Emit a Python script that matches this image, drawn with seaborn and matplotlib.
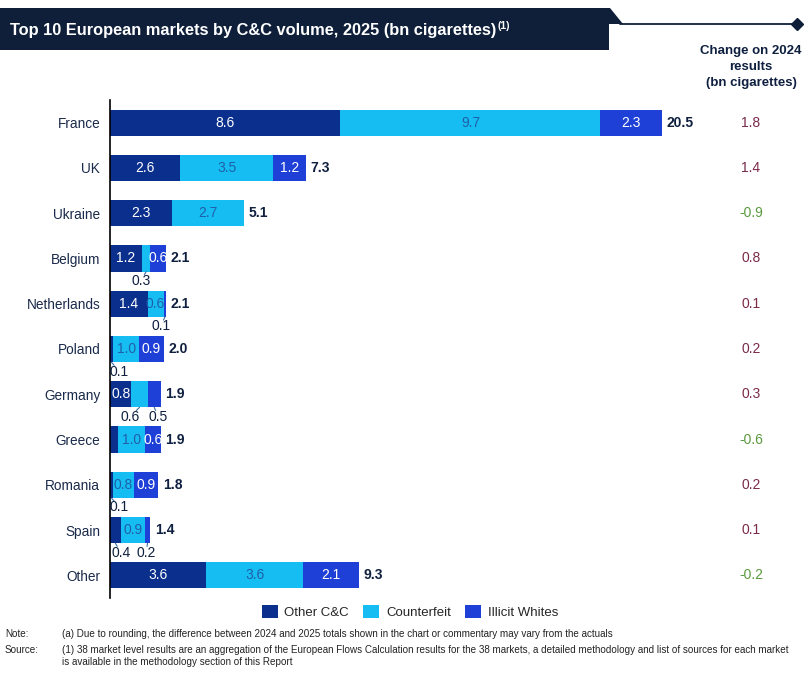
import numpy as np
import pandas as pd
import matplotlib
matplotlib.use("Agg")
import matplotlib.pyplot as plt
from matplotlib.patches import Polygon, Patch
from matplotlib.lines import Line2D
import matplotlib.transforms as mtransforms
import seaborn as sns

# ---------------- data ----------------
countries = ["France", "UK", "Ukraine", "Belgium", "Netherlands", "Poland",
             "Germany", "Greece", "Romania", "Spain", "Other"]
other_cc = [8.6, 2.6, 2.3, 1.2, 1.4, 0.1, 0.8, 0.3, 0.1, 0.4, 3.6]
counterfeit = [9.7, 3.5, 2.7, 0.3, 0.6, 1.0, 0.6, 1.0, 0.8, 0.9, 3.6]
illicit_whites = [2.3, 1.2, 0.0, 0.6, 0.1, 0.9, 0.5, 0.6, 0.9, 0.2, 2.1]
totals = [20.5, 7.3, 5.1, 2.1, 2.1, 2.0, 1.9, 1.9, 1.8, 1.4, 9.3]
change_2024 = [1.8, 1.4, -0.9, 0.8, 0.1, 0.2, 0.3, -0.6, 0.2, 0.1, -0.2]
series_names = ["Other C&C", "Counterfeit", "Illicit Whites"]

# which segment values are printed inside the bars
inside_show = {
    "Other C&C": [True, True, True, True, True, False, True, False, False, False, True],
    "Counterfeit": [True, True, True, False, True, True, False, True, True, True, True],
    "Illicit Whites": [True, True, False, True, False, True, False, True, True, False, True],
}
# labels placed below the bar: (country, series, x-offset in data units)
below_labels = [("Belgium", "Counterfeit", -0.2),
                ("Netherlands", "Illicit Whites", -0.15),
                ("Poland", "Other C&C", 0.3),
                ("Germany", "Counterfeit", -0.35),
                ("Germany", "Illicit Whites", 0.15),
                ("Romania", "Other C&C", 0.3),
                ("Spain", "Other C&C", 0.2),
                ("Spain", "Illicit Whites", -0.05)]

# ---------------- style ----------------
C_OTHER = "#0a2f8c"
C_COUNT = "#16bdf2"
C_ILLIC = "#1f40d6"
NAVY = "#0e1f3f"
TXT_COUNT = "#1f5fa8"
POS_C = "#7a2a4a"
NEG_C = "#5a9a3c"

sns.set_theme(style="white")
plt.rcParams["font.family"] = ["Liberation Sans", "DejaVu Sans"]

W, H = 808, 673
fig = plt.figure(figsize=(W / 100, H / 100), dpi=100)
fig.patch.set_facecolor("white")

def fx(px):
    return px / W

def fy(py):
    return 1 - py / H

ax = fig.add_axes([fx(110), fy(598), fx(580), fy(100) - fy(598)])

df = pd.DataFrame({"country": countries, "other": other_cc,
                   "counterfeit": counterfeit, "illicit": illicit_whites})
df["c1"] = df["other"]
df["c2"] = df["other"] + df["counterfeit"]
df["c3"] = df["c2"] + df["illicit"]

bw = 0.58
sns.barplot(data=df, y="country", x="c3", color=C_ILLIC, orient="h",
            width=bw, ax=ax, saturation=1, linewidth=0)
sns.barplot(data=df, y="country", x="c2", color=C_COUNT, orient="h",
            width=bw, ax=ax, saturation=1, linewidth=0)
sns.barplot(data=df, y="country", x="c1", color=C_OTHER, orient="h",
            width=bw, ax=ax, saturation=1, linewidth=0)

ax.set_xlim(0, 580 / 26.8)
ax.set_ylim(10.5, -0.5)
ax.set_xlabel("")
ax.set_ylabel("")
ax.set_xticks([])
for s in ["top", "right", "bottom"]:
    ax.spines[s].set_visible(False)
ax.spines["left"].set_color("black")
ax.spines["left"].set_linewidth(1.2)
ax.tick_params(axis="y", length=0, pad=7, labelsize=9.8, labelcolor="#1a2a4a")

series_vals = {"Other C&C": other_cc, "Counterfeit": counterfeit, "Illicit Whites": illicit_whites}
starts = {"Other C&C": [0] * len(countries),
          "Counterfeit": list(df["c1"]),
          "Illicit Whites": list(df["c2"])}
txtcol = {"Other C&C": "white", "Counterfeit": TXT_COUNT, "Illicit Whites": "white"}

for name in series_names:
    for i, c in enumerate(countries):
        v = series_vals[name][i]
        if inside_show[name][i] and v > 0:
            xc = starts[name][i] + v / 2
            ax.text(xc, i, f"{v:.1f}", ha="center", va="center",
                    color=txtcol[name], fontsize=10)

for i, t in enumerate(totals):
    ax.text(df["c3"][i] + 0.17, i, f"{t:.1f}", ha="left", va="center",
            color=NAVY, fontsize=10, fontweight="bold")

for c, name, off in below_labels:
    i = countries.index(c)
    v = series_vals[name][i]
    xc = starts[name][i] + v / 2
    ax.plot([xc, xc + off * 0.35], [i + bw / 2, i + 0.36], color="#3b6fa8", lw=0.8,
            clip_on=False)
    ax.text(xc + off, i + 0.5, f"{v:.1f}", ha="center", va="center",
            color=NAVY, fontsize=10)

# change column
trans = mtransforms.blended_transform_factory(fig.transFigure, ax.transData)
for i, ch in enumerate(change_2024):
    ax.text(fx(751), i, f"{ch:.1f}", transform=trans, ha="center", va="center",
            color=POS_C if ch > 0 else NEG_C, fontsize=10)
fig.text(fx(751), fy(45), "Change on 2024\nresults\n(bn cigarettes)", ha="center",
         va="top", fontsize=9.5, fontweight="bold", color=NAVY, linespacing=1.42)

# title banner
banner = Polygon([(fx(0), fy(8)), (fx(610), fy(8)), (fx(623), fy(24)), (fx(609), fy(24)),
                  (fx(609), fy(50)), (fx(0), fy(50))], closed=True,
                 transform=fig.transFigure, facecolor="#0f1f3a", edgecolor="none")
fig.patches.append(banner)
fig.add_artist(Line2D([fx(620), fx(797)], [fy(24), fy(24)], transform=fig.transFigure,
                      color="#0f1f3a", lw=1.3))
fig.add_artist(Line2D([fx(797)], [fy(24)], transform=fig.transFigure, marker="D",
                      markersize=6, color="#0f1f3a"))
title = fig.text(fx(10), fy(30), "Top 10 European markets by C&C volume, 2025 (bn cigarettes)",
                 ha="left", va="center", color="white", fontsize=11.8, fontweight="bold")
fig.canvas.draw()
bb = title.get_window_extent(renderer=fig.canvas.get_renderer())
fig.text(bb.x1 / W + 0.001, fy(26), "(1)", ha="left", va="center", color="white",
         fontsize=7.5, fontweight="bold")

# legend
handles = [Patch(facecolor=c, edgecolor="none") for c in [C_OTHER, C_COUNT, C_ILLIC]]
fig.legend(handles, series_names, loc="center", bbox_to_anchor=(fx(410), fy(612)),
           ncol=3, frameon=False, handlelength=1.2, handleheight=1.2,
           columnspacing=1.1, handletextpad=0.5,
           prop={"family": ["Liberation Sans", "DejaVu Sans"], "size": 9.5})

# notes
nf = 7.15
nc = "#222222"
fig.text(fx(5), fy(634), "Note:", fontsize=nf, va="center", color=nc)
fig.text(fx(62), fy(634), "(a) Due to rounding, the difference between 2024 and 2025 totals shown in the chart or commentary may vary from the actuals",
         fontsize=nf, va="center", color=nc)
fig.text(fx(5), fy(650), "Source:", fontsize=nf, va="center", color=nc)
fig.text(fx(62), fy(650), "(1) 38 market level results are an aggregation of the European Flows Calculation results for the 38 markets, a detailed methodology and list of sources for each market",
         fontsize=nf, va="center", color=nc)
fig.text(fx(62), fy(662), "is available in the methodology section of this Report",
         fontsize=nf, va="center", color=nc)

fig.savefig("out.png", dpi=100)
